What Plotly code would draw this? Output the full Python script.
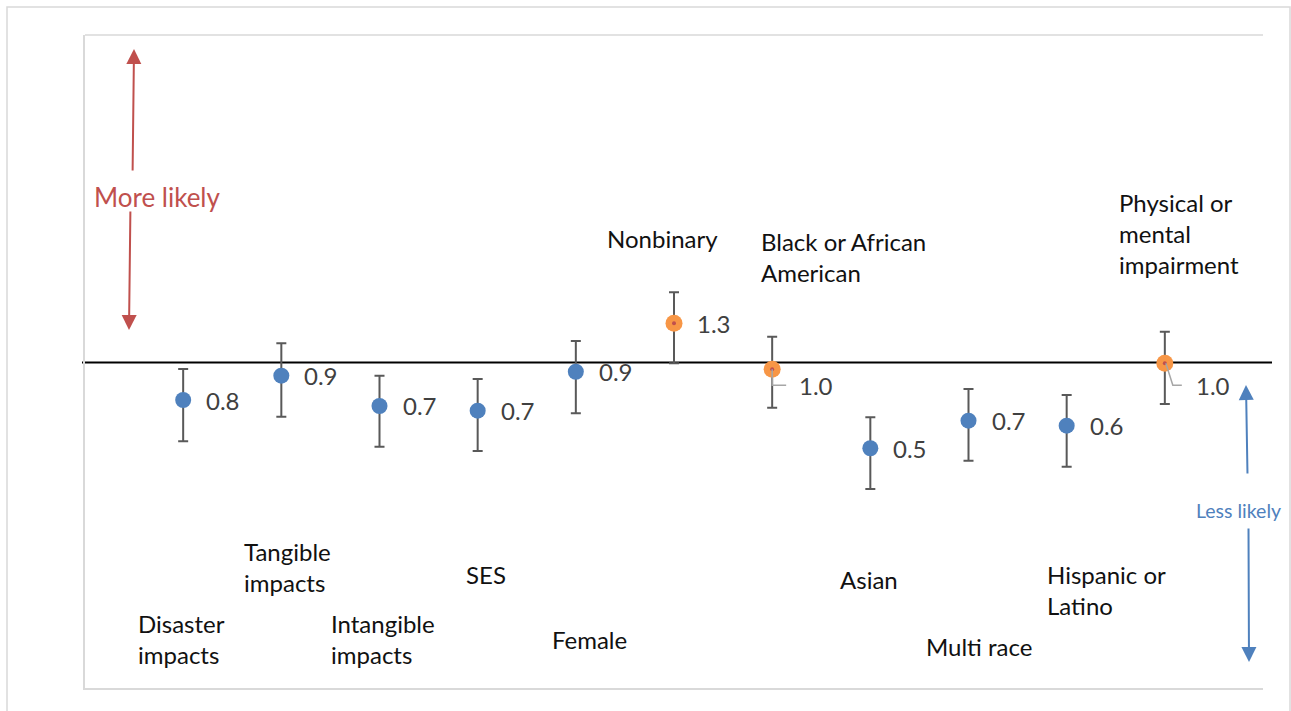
import numpy as np
import plotly.graph_objects as go

# ---------------- data ----------------
categories = ["Disaster<br>impacts", "Tangible<br>impacts", "Intangible<br>impacts", "SES",
              "Female", "Nonbinary", "Black or African<br>American", "Asian", "Multi race",
              "Hispanic or<br>Latino", "Physical or<br>mental<br>impairment"]
odds_ratio = [0.765, 0.910, 0.733, 0.709, 0.936, 1.323, 0.953, 0.542, 0.660, 0.637, 0.994]
ci_lower = [0.570, 0.679, 0.548, 0.531, 0.696, 0.994, 0.724, 0.405, 0.496, 0.475, 0.743]
ci_upper = [0.955, 1.147, 0.910, 0.889, 1.166, 1.651, 1.202, 0.676, 0.828, 0.793, 1.246]
highlight = [False, False, False, False, False, True, True, False, False, False, True]
reference_value = 1.0

# ---------------- layout helpers ----------------
W, H = 1291, 711
L, R, T, B = 85, 28, 35, 23
PW, PH = W - L - R, H - T - B


def px(x):
    return (x - L) / PW


def py(y):
    return (H - B - y) / PH


BLUE = "#4f81bd"
ORANGE = "#f79646"
RED = "#c0504d"
FONT = "Lato"

xs = list(range(1, len(odds_ratio) + 1))
colors = [ORANGE if h else BLUE for h in highlight]
sizes = [17 if h else 16 for h in highlight]

fig = go.Figure()
fig.add_trace(go.Scatter(
    x=xs, y=odds_ratio, mode="markers",
    marker=dict(color=colors, size=sizes, opacity=1, line=dict(width=0)),
    error_y=dict(type="data", symmetric=False,
                 array=[u - v for u, v in zip(ci_upper, odds_ratio)],
                 arrayminus=[v - l for v, l in zip(odds_ratio, ci_lower)],
                 color="#595959", thickness=2, width=5),
    hoverinfo="skip", showlegend=False, cliponaxis=False))
fig.add_trace(go.Scatter(
    x=[x for x, h in zip(xs, highlight) if h],
    y=[v for v, h in zip(odds_ratio, highlight) if h],
    mode="markers", marker=dict(color=RED, size=4, opacity=1),
    hoverinfo="skip", showlegend=False))

annotations = []
shapes = []

# value labels
label_offsets = {6: (25, -16), 10: (29, -22)}
for i, (x, v) in enumerate(zip(xs, odds_ratio)):
    dx, dy = label_offsets.get(i, (21, 0))
    annotations.append(dict(x=x, y=np.log10(v), xref="x", yref="y", text=f"{v:.1f}",
                            showarrow=False, xanchor="left", yanchor="middle",
                            xshift=dx, yshift=dy,
                            font=dict(family=FONT, size=24, color="#404040")))

# leader lines for offset labels
for i, path in [(6, "M0,0 L0,-16 L14,-16"), (10, "M1,0 L8,-22 L17,-22")]:
    shapes.append(dict(type="path", xref="x", yref="y", xsizemode="pixel", ysizemode="pixel",
                       xanchor=xs[i], yanchor=odds_ratio[i], path=path,
                       line=dict(color="#a6a6a6", width=1.5)))

# category labels (left edge px, vertical centre px)
cat_pos = [(138, 639), (244, 567), (331, 639), (466, 574), (552, 639), (607, 238),
           (761, 257), (840, 579), (926, 646), (1047, 590), (1119, 234)]
for name, (lx, cy) in zip(categories, cat_pos):
    annotations.append(dict(x=px(lx - 2), y=py(cy), xref="paper", yref="paper", text=name,
                            showarrow=False, xanchor="left", yanchor="middle", align="left",
                            font=dict(family=FONT, size=24, color="#111111")))


def arrow(tip, tail, color):
    return dict(x=px(tip[0]), y=py(tip[1]), xref="paper", yref="paper", text="",
                showarrow=True, ax=tail[0] - tip[0], ay=tail[1] - tip[1],
                axref="pixel", ayref="pixel", arrowhead=2, arrowsize=1.5,
                arrowwidth=2, arrowcolor=color, standoff=0)


# "More likely" arrow (broken around the text)
annotations.append(arrow((134, 49), (132.6, 172), RED))
annotations.append(arrow((129, 330), (130.4, 210), RED))
annotations.append(dict(x=px(157), y=py(197), xref="paper", yref="paper", text="More likely",
                        showarrow=False, xanchor="center", yanchor="middle",
                        font=dict(family=FONT, size=26, color=RED)))
# "Less likely" arrow
annotations.append(arrow((1246, 385), (1247.5, 475), BLUE))
annotations.append(arrow((1249, 662), (1248.5, 527), BLUE))
annotations.append(dict(x=px(1238), y=py(510), xref="paper", yref="paper", text="Less likely",
                        showarrow=False, xanchor="center", yanchor="middle",
                        font=dict(family=FONT, size=19.5, color=BLUE)))

# reference line at OR = 1
shapes.append(dict(type="line", xref="paper", yref="y", x0=px(82), x1=px(1272),
                   y0=reference_value, y1=reference_value,
                   line=dict(color="black", width=2), layer="below"))
# top border of plot area
shapes.append(dict(type="line", xref="paper", yref="paper", x0=0, x1=1, y0=1, y1=1,
                   line=dict(color="#d9d9d9", width=1.5)))
# outer chart border
shapes.append(dict(type="rect", xref="paper", yref="paper", x0=px(7), x1=px(1290),
                   y0=py(713), y1=py(7), line=dict(color="#d9d9d9", width=1.5)))

ymin_px, ymax_px = H - B, T
k = 140.0
y1_px = 362.5
yrange = [(y1_px - ymin_px) / k / np.log(10), (y1_px - ymax_px) / k / np.log(10)]

fig.update_layout(
    width=W, height=H, margin=dict(l=L, r=R, t=T, b=B),
    paper_bgcolor="white", plot_bgcolor="white",
    xaxis=dict(range=[0, 12], showgrid=False, zeroline=False, showticklabels=False,
               ticks="", showline=True, linecolor="#d9d9d9", linewidth=1.5, fixedrange=True),
    yaxis=dict(type="log", range=yrange, showgrid=False, zeroline=False, showticklabels=False,
               ticks="", showline=True, linecolor="#d9d9d9", linewidth=1.5, fixedrange=True),
    annotations=annotations, shapes=shapes, showlegend=False,
)

fig.write_html("out.html", config={"displayModeBar": False},
               post_script="document.body.style.margin='0';document.body.style.padding='0';"
                           "document.body.style.overflow='hidden';")
